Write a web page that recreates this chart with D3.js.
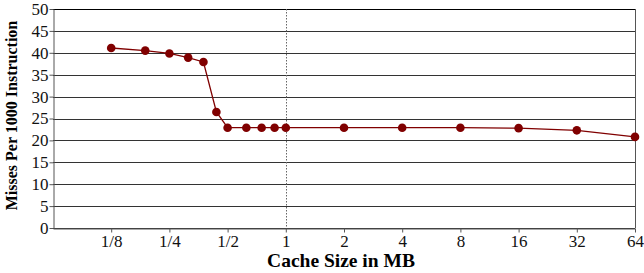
<!DOCTYPE html>
<html>
<head>
<meta charset="utf-8">
<script src="https://cdn.jsdelivr.net/npm/d3@7"></script>
<style>
  body { margin: 0; background: #fff; }
</style>
</head>
<body>
<div id="chart"></div>
<script>
// cache size (MB) and misses per 1000 instructions
var cacheSizes = [1/8, 3/16, 1/4, 5/16, 3/8, 7/16, 1/2, 5/8, 3/4, 7/8, 1, 2, 4, 8, 16, 32, 64];
var misses = [41.1, 40.5, 39.85, 38.9, 37.9, 26.5, 22.9, 22.9, 22.9, 22.9, 22.9, 22.9, 22.9, 22.9, 22.8, 22.3, 20.8];
var xTicks = [1/8, 1/4, 1/2, 1, 2, 4, 8, 16, 32, 64];
var xTickLabels = ["1/8", "1/4", "1/2", "1", "2", "4", "8", "16", "32", "64"];
var yTicks = [0, 5, 10, 15, 20, 25, 30, 35, 40, 45, 50];

var serif = "'Liberation Serif', 'Times New Roman', serif";

var margin = {top: 9, right: 9, bottom: 45, left: 53},
    width = 644 - margin.left - margin.right,
    height = 273 - margin.top - margin.bottom;

var svg = d3.select("#chart")
    .append("svg")
    .attr("width", 644)
    .attr("height", 273)
    .append("g")
    .attr("transform", "translate(" + margin.left + "," + margin.top + ")");

var x = d3.scaleLog().base(2)
    .domain([1/16, 64])
    .range([0, width]);

var y = d3.scaleLinear()
    .domain([0, 50])
    .range([height, 0]);

// horizontal grid
svg.append("g")
    .selectAll("line")
    .data(yTicks)
    .enter()
    .append("line")
    .attr("x1", 0)
    .attr("x2", width)
    .attr("y1", function(d) { return Math.round(y(d)) + 0.5; })
    .attr("y2", function(d) { return Math.round(y(d)) + 0.5; })
    .style("stroke", function(d) { return d == 50 ? "#000" : "#333"; })
    .style("stroke-width", 1);

// dotted line at 1 MB
svg.append("line")
    .attr("x1", Math.round(x(1)) + 0.5)
    .attr("x2", Math.round(x(1)) + 0.5)
    .attr("y1", 0)
    .attr("y2", height)
    .style("stroke", "#666")
    .style("stroke-dasharray", "1.5,1.5");

// right border
svg.append("line")
    .attr("x1", width + 0.5)
    .attr("x2", width + 0.5)
    .attr("y1", 0)
    .attr("y2", height)
    .style("stroke", "#555");

// y axis
var yAxis = svg.append("g")
    .attr("transform", "translate(0.5,0)")
    .call(d3.axisLeft(y).tickValues(yTicks).tickSize(4).tickPadding(1).tickSizeOuter(0));
yAxis.attr("font-family", null);
yAxis.select(".domain").style("stroke", "#555");
yAxis.selectAll(".tick line").style("stroke", "#555");
yAxis.selectAll("text").style("font-family", serif).style("font-size", "17px").style("fill", "#111");

// x axis
var xAxis = svg.append("g")
    .attr("transform", "translate(0," + (Math.round(height) + 0.5) + ")")
    .call(d3.axisBottom(x).tickValues(xTicks).tickSize(4).tickPadding(2).tickSizeOuter(0)
        .tickFormat(function(d, i) { return xTickLabels[i]; }));
xAxis.attr("font-family", null);
xAxis.select(".domain").style("stroke", "#555");
xAxis.selectAll(".tick line").style("stroke", "#555");
xAxis.selectAll("text").style("font-family", serif).style("font-size", "17px").style("fill", "#111");

// axis titles
svg.append("text")
    .attr("x", 288)
    .attr("y", height + 39)
    .style("text-anchor", "middle")
    .style("font-family", serif)
    .style("font-size", "19.5px")
    .style("font-weight", "bold")
    .text("Cache Size in MB");

svg.append("text")
    .attr("transform", "rotate(-90)")
    .attr("x", -(height / 2) + 3)
    .attr("y", -margin.left + 17)
    .style("text-anchor", "middle")
    .style("font-family", serif)
    .style("font-size", "16px")
    .style("font-weight", "bold")
    .text("Misses Per 1000 Instruction");

// series
var line = d3.line()
    .x(function(d, i) { return x(cacheSizes[i]); })
    .y(function(d) { return y(d); });

svg.append("path")
    .datum(misses)
    .attr("d", line)
    .style("fill", "none")
    .style("stroke", "#800000")
    .style("stroke-width", 1.3);

svg.selectAll("dot")
    .data(misses)
    .enter()
    .append("circle")
    .attr("cx", function(d, i) { return x(cacheSizes[i]); })
    .attr("cy", function(d) { return y(d); })
    .attr("r", 4.3)
    .style("fill", "#800000");
</script>
</body>
</html>
